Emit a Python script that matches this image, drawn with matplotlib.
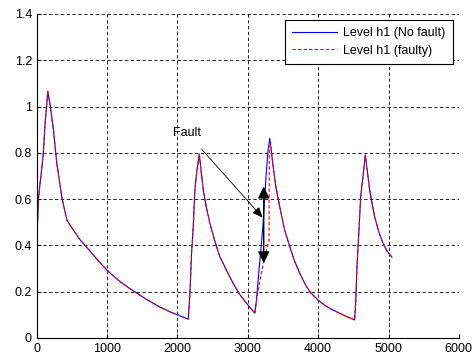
import numpy as np
import matplotlib
matplotlib.use('Agg')
import matplotlib.pyplot as plt
from matplotlib.ticker import FormatStrFormatter

plt.rcParams['font.family'] = ['Liberation Sans', 'DejaVu Sans']

# common part before the fault (time, level)
t_before = [0, 2, 9, 23, 47, 70, 94, 118, 142, 156, 189, 236, 284, 355, 426, 500,
            615, 700, 800, 900, 993, 1100, 1200, 1300, 1400, 1500, 1608, 1740, 1900,
            2000, 2100, 2153, 2177, 2200, 2224, 2247, 2271, 2309, 2366, 2410, 2460,
            2530, 2602, 2700, 2791, 2880, 2981, 3050, 3099]
h_before = [0.40, 0.41, 0.48, 0.60, 0.67, 0.73, 0.805, 0.93, 1.01, 1.067, 1.007, 0.90,
            0.755, 0.61, 0.51, 0.475, 0.424, 0.395, 0.36, 0.325, 0.294, 0.265, 0.24,
            0.218, 0.198, 0.178, 0.158, 0.135, 0.112, 0.10, 0.088, 0.081, 0.193, 0.366,
            0.481, 0.64, 0.71, 0.795, 0.64, 0.565, 0.496, 0.42, 0.351, 0.29, 0.236,
            0.19, 0.15, 0.125, 0.107]

# fault window: no-fault and faulty versions
t_ok = [3123, 3146, 3194, 3217, 3241, 3265, 3288, 3312]
h_ok = [0.164, 0.25, 0.41, 0.496, 0.61, 0.726, 0.812, 0.863]
t_bad = [3146, 3194, 3241, 3288, 3302, 3305, 3322]
h_bad = [0.207, 0.28, 0.351, 0.41, 0.42, 0.80, 0.848]

# common part after the fault
t_after = [3360, 3400, 3454, 3520, 3596, 3660, 3738, 3810, 3880, 3997, 4100, 4200,
           4300, 4400, 4518, 4533, 4552, 4580, 4604, 4637, 4670, 4732, 4770, 4803,
           4860, 4921, 4980, 5049]
h_after = [0.74, 0.65, 0.567, 0.47, 0.395, 0.335, 0.28, 0.235, 0.2, 0.164, 0.14,
           0.122, 0.108, 0.093, 0.078, 0.15, 0.308, 0.467, 0.61, 0.697, 0.791, 0.64,
           0.575, 0.524, 0.46, 0.41, 0.375, 0.349]

t1 = np.array(t_before + t_ok + t_after)
h1 = np.array(h_before + h_ok + h_after)
t2 = np.array(t_before + t_bad + t_after)
h2 = np.array(h_before + h_bad + h_after)

fig = plt.figure(figsize=(4.75, 3.58), dpi=100)
ax = fig.add_axes([0.0775, 0.056, 0.8885, 0.905])

ax.plot(t1, h1, color='#0000ff', lw=0.8, label='Level h1 (No fault)')
ax.plot(t2, h2, color='#ff0000', lw=0.8, ls=(0, (3, 2)), label='Level h1 (faulty)')

ax.set_xlim(0, 6000)
ax.set_ylim(0, 1.4)
ax.set_xticks(np.arange(0, 6001, 1000))
ax.set_yticks(np.arange(0, 1.41, 0.2))
ax.yaxis.set_major_formatter(FormatStrFormatter('%g'))
ax.tick_params(direction='in', length=3, labelsize=9, pad=3.5)
ax.grid(True, color='black', lw=0.6, ls=(0, (4, 3)))
ax.spines['top'].set_visible(False)
ax.spines['right'].set_visible(False)
ax.spines['left'].set_linewidth(0.8)
ax.spines['bottom'].set_linewidth(0.8)

# annotations
ax.annotate('Fault', xy=(3210, 0.52), xytext=(2140, 0.885), fontsize=9,
            ha='center', va='center',
            arrowprops=dict(arrowstyle='-|>,head_length=0.7,head_width=0.3',
                            color='black', lw=0.6, shrinkA=7, shrinkB=0))
ax.annotate('', xy=(3226, 0.654), xytext=(3226, 0.323),
            arrowprops=dict(arrowstyle='<|-|>,head_length=0.7,head_width=0.35',
                            color='black', lw=1.0, shrinkA=0, shrinkB=0))

leg = ax.legend(loc='upper right', fontsize=9, handlelength=3.6, handletextpad=0.5,
                fancybox=False, framealpha=1, edgecolor='black', borderaxespad=0.5,
                borderpad=0.55, labelspacing=0.45)
leg.get_frame().set_linewidth(0.8)

fig.savefig('out.png', dpi=100)
